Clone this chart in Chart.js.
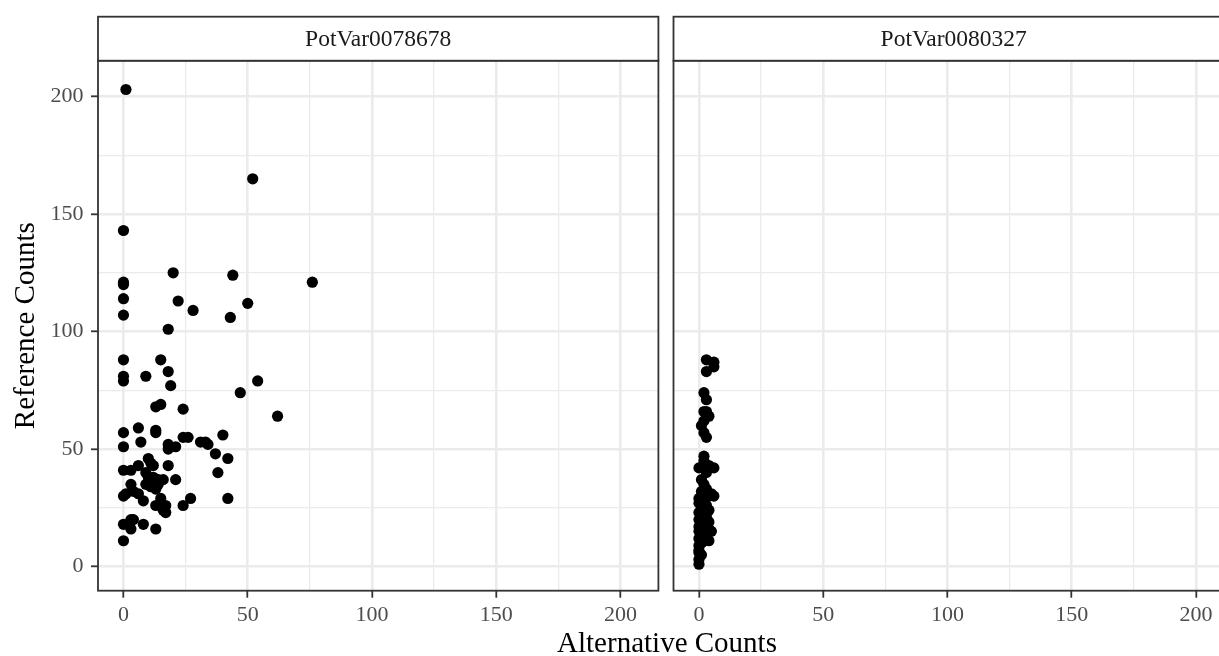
<!DOCTYPE html>
<html>
<head>
<meta charset="utf-8">
<script src="https://cdn.jsdelivr.net/npm/chart.js@4.4.1/dist/chart.umd.min.js"></script>
<style>
html,body{margin:0;padding:0;background:#fff;overflow:hidden;width:1219px;height:656px;}
#wrap{position:relative;width:1219px;height:656px;overflow:hidden;background:#fff;}
canvas{position:absolute;top:0;}
#c1{left:0;}
#c2{left:660px;}
</style>
</head>
<body>
<div id="wrap">
<canvas id="c1" width="1334" height="656"></canvas>
<canvas id="c2" width="600" height="656"></canvas>
</div>
<script>
// ---- data ----
const panelNames = ['PotVar0078678', 'PotVar0080327'];
const xTitle = 'Alternative Counts';
const yTitle = 'Reference Counts';
const majorTicks = [0, 50, 100, 150, 200];
const minorTicks = [25, 75, 125, 175];

// PotVar0078678
const altA = [1, 52, 0, 20, 44, 76, 0, 0, 0, 22, 50, 28, 0, 43, 18, 0, 15, 0, 0, 9,
  18, 19, 54, 47, 13, 15, 24, 62, 0, 6, 13, 13, 0, 7, 18, 18, 21, 24, 26, 31,
  33, 34, 40, 37, 42, 38, 42, 0, 3, 6, 10, 11, 12, 18, 10, 9, 12, 13, 11, 12,
  16, 21, 3, 0, 1, 4, 6, 8, 15, 13, 16, 17, 17, 24, 27, 0, 3, 3, 8, 2,
  4, 13, 0, 14, 9, 16, 10, 12, 14];
const refA = [203, 165, 143, 125, 124, 121, 121, 120, 114, 113, 112, 109, 107, 106, 101, 88, 88, 81, 79, 81,
  83, 77, 79, 74, 68, 69, 67, 64, 57, 59, 58, 57, 51, 53, 52, 50, 51, 55, 55, 53,
  53, 52, 56, 48, 46, 40, 29, 41, 41, 43, 46, 44, 43, 43, 38, 35, 36, 33, 34, 38,
  37, 37, 35, 30, 31, 32, 31, 28, 29, 26, 26, 26, 23, 26, 29, 18, 20, 16, 18, 18,
  20, 16, 11, 37, 40, 24, 36, 34, 35];

// PotVar0080327
const altB = [3, 6, 6, 3, 2, 3, 2, 4, 3, 1, 2, 2, 3, 2, 2, 4, 6, 0, 1, 3,
  0, 1, 2, 3, 4, 6, 5, 0, 1, 2, 4, 0, 1, 3, 0, 2, 4, 1, 0, 3,
  4, 0, 2, 1, 3, 0, 2, 4, 1, 0, 0, 0, 1, 0, 0, 5, 2, 3, 1, 2, 3];
const refB = [88, 87, 85, 83, 74, 71, 66, 64, 66, 60, 62, 57, 55, 47, 45, 43, 42, 42, 37, 40,
  29, 28, 30, 31, 30, 30, 31, 27, 25, 24, 24, 23, 22, 21, 20, 19, 19, 18, 17, 17,
  16, 15, 14, 13, 13, 12, 11, 11, 10, 9, 7, 6, 5, 3, 1, 15, 27, 26, 32, 35, 33];

const axisMin = -10.25;
const axisMax = 215.25;

// ---- helpers ----
const allTicks = majorTicks.concat(minorTicks).sort((a, b) => a - b);
const isMajor = v => majorTicks.includes(v);
const FONT = '"Liberation Serif", "Times New Roman", serif';
Chart.defaults.font.family = FONT;

const facetPlugin = {
  id: 'facet',
  afterDraw(chart, args, o) {
    const {ctx, chartArea: a} = chart;
    ctx.save();
    ctx.strokeStyle = '#333333';
    ctx.lineWidth = 1.8;
    ctx.strokeRect(a.left, a.top, a.right - a.left, a.bottom - a.top);
    ctx.fillStyle = '#ffffff';
    ctx.fillRect(a.left, o.stripTop, a.right - a.left, a.top - o.stripTop);
    ctx.strokeRect(a.left, o.stripTop, a.right - a.left, a.top - o.stripTop);
    ctx.fillStyle = '#1A1A1A';
    ctx.font = '23.5px ' + FONT;
    ctx.textAlign = 'center';
    ctx.textBaseline = 'middle';
    ctx.fillText(o.label, (a.left + a.right) / 2, (o.stripTop + a.top) / 2 + 1);
    ctx.restore();
  }
};

function gridOpts(showTicks) {
  return {
    color: '#EBEBEB',
    lineWidth: c => (c.tick && isMajor(c.tick.value)) ? 2.6 : 1.3,
    drawTicks: showTicks,
    tickLength: 7,
    tickWidth: 1.8,
    tickColor: c => (c.tick && isMajor(c.tick.value)) ? '#333333' : 'rgba(0,0,0,0)'
  };
}
function tickOpts(show, pad) {
  return {
    display: show,
    autoSkip: false,
    maxRotation: 0,
    minRotation: 0,
    padding: pad,
    color: '#4D4D4D',
    font: {family: FONT, size: 22},
    callback: v => isMajor(v) ? String(v) : ''
  };
}
const setTicks = s => { s.ticks = allTicks.map(v => ({value: v})); };

function makePanel(canvas, label, xs, ys, first) {
  const scales = {
    x: {
      type: 'linear', position: 'bottom', min: axisMin, max: axisMax,
      afterBuildTicks: setTicks,
      ticks: tickOpts(true, 4),
      grid: gridOpts(true),
      border: {display: false},
      afterFit: s => { s.height = 41.3; }
    },
    y: {
      type: 'linear', position: 'left', min: axisMin, max: axisMax,
      afterBuildTicks: setTicks,
      ticks: tickOpts(first, 7.5),
      grid: gridOpts(first),
      border: {display: false},
      title: first ? {
        display: true, text: yTitle, color: '#000000',
        font: {family: FONT, size: 29, weight: 'normal', lineHeight: 1.2},
        padding: {top: 8.8, bottom: 0}
      } : {display: false},
      afterFit: s => { s.width = first ? 98 : 13.5; }
    }
  };
  if (first) {
    scales.yR = {
      type: 'linear', position: 'right', display: true,
      ticks: {display: false}, grid: {display: false, drawTicks: false},
      border: {display: false},
      afterFit: s => { s.width = 1334 - 658.4; }
    };
  }
  return new Chart(canvas, {
    type: 'scatter',
    data: {
      datasets: [{
        label: label,
        data: xs.map((x, i) => ({x: x, y: ys[i]})),
        pointRadius: 5.6,
        pointHoverRadius: 5.6,
        pointBackgroundColor: '#000000',
        pointBorderColor: '#000000',
        pointBorderWidth: 0,
        clip: false
      }]
    },
    options: {
      responsive: false,
      animation: false,
      events: [],
      layout: {padding: first ? {top: 60.7, left: 0, right: 0, bottom: 0}
                              : {top: 60.7, left: 0, right: 600 - 573.9, bottom: 24}},
      scales: scales,
      plugins: {
        legend: {display: false},
        tooltip: {enabled: false},
        title: first ? {
          display: true, text: xTitle, position: 'bottom', color: '#000000',
          font: {family: FONT, size: 29, weight: 'normal', lineHeight: 24 / 29},
          padding: 0
        } : {display: false},
        facet: {label: label, stripTop: 16.7}
      }
    },
    plugins: [facetPlugin]
  });
}

makePanel(document.getElementById('c1'), panelNames[0], altA, refA, true);
makePanel(document.getElementById('c2'), panelNames[1], altB, refB, false);
</script>
</body>
</html>
